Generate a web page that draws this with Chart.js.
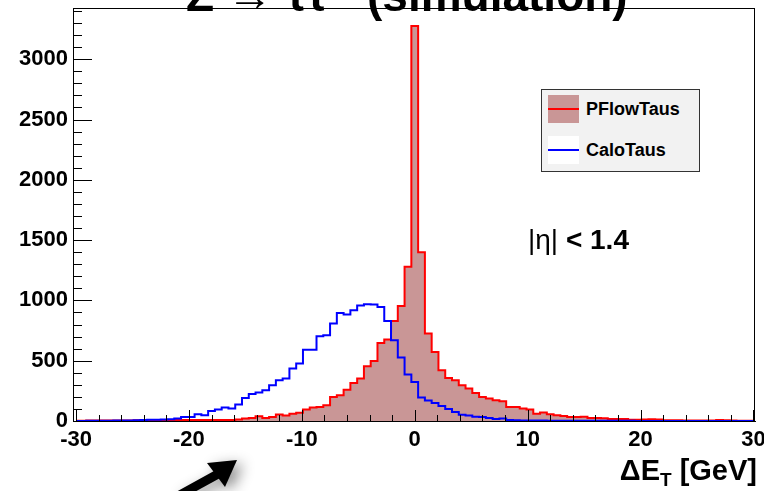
<!DOCTYPE html>
<html>
<head>
<meta charset="utf-8">
<script src="https://cdn.jsdelivr.net/npm/chart.js@4/dist/chart.umd.min.js"></script>
<style>
  body { margin: 0; background: #fff; }
  #wrap { position: relative; width: 764px; height: 491px; overflow: hidden; background: #fff;
          font-family: "Liberation Sans", Arial, Helvetica, sans-serif; color: #000; }
  #histo { position: absolute; left: 0; top: 0; }
  .over { position: absolute; white-space: nowrap; }
  #legend { left: 541px; top: 89px; width: 157px; height: 81px; background: #f2f2f2; border: 1px solid #333; }
  .entry { position: absolute; left: 6px; width: 150px; height: 28px; }
  .sample { position: absolute; left: 0; top: 0; width: 31px; height: 28px; }
  .sample i { position: absolute; left: 0; top: 13px; width: 31px; height: 2px; }
  .entry span { position: absolute; left: 38px; top: 0; line-height: 28px; font-weight: bold; font-size: 18px; }
</style>
</head>
<body>
<div id="wrap">
  <canvas id="histo" width="764" height="491"></canvas>
  <div class="over" style="left:186px; top:-28px; font-size:46px; line-height:46px; font-weight:bold;">Z → ττ</div>
  <div class="over" style="left:367px; top:-28px; font-size:46px; line-height:46px; font-weight:bold;">(simulation)</div>
  <div id="legend" class="over">
    <div class="entry" style="top:5px;">
      <div class="sample" style="background:#c99696;"><i style="background:#ff0000;"></i></div>
      <span>PFlowTaus</span>
    </div>
    <div class="entry" style="top:46px;">
      <div class="sample" style="background:#fff;"><i style="background:#0000ff;"></i></div>
      <span>CaloTaus</span>
    </div>
  </div>
  <div class="over" style="left:528px; top:225px; font-size:28px; line-height:30px;">|η| <b>&lt; 1.4</b></div>
  <div class="over" style="right:7px; top:456px; font-size:29px; line-height:29px; font-weight:bold;">ΔE<span style="font-size:19px; position:relative; top:6px;">T</span> [GeV]</div>
</div>

<script>
// histogram contents, 0.6 GeV bins, first bin centred at -30
const pflowTaus = [
  3, 3, 4, 4, 4, 5, 5, 5, 5, 6, 6, 6, 7, 7, 8,
  8, 8, 8, 9, 8, 8, 9, 8, 9, 12,
  20, 25, 39, 25, 33, 53, 45, 61, 68, 96,
  111, 116, 130, 199, 213, 260, 315, 352, 454, 498,
  647, 675, 829, 954, 1280,
  3275,
  1400, 726, 573, 421, 357, 338, 296, 269, 232, 199,
  186, 172, 163, 116, 116, 103, 95, 61, 70, 56,
  47, 42, 33, 33, 36, 25, 25, 22, 17, 17,
  16, 11, 11, 12, 14, 12, 7, 6, 6, 5,
  4, 4, 4, 5, 8, 7, 4, 3, 3, 2
];
const caloTaus = [
  1, 1, 2, 2, 3, 3, 4, 5, 5, 6, 8, 10, 10, 12, 15,
  20, 33, 33, 56, 47, 83, 95, 111, 103, 136,
  191, 224, 236, 255, 296, 338, 352, 435, 476, 590,
  590, 703, 711, 808, 896, 883, 919, 958, 968, 966,
  946, 830, 670, 526, 385,
  324,
  195, 170, 150, 125, 100, 75, 52, 45, 36, 33,
  25, 16, 20, 8, 6, 5, 5, 4, 4, 3,
  3, 3, 3, 2, 2, 2, 2, 2, 2, 2,
  2, 2, 1, 1, 1, 1, 1, 1, 1, 1,
  1, 1, 1, 1, 1, 1, 1, 1, 0, 0
];
const xTickLabels = [-30, -20, -10, 0, 10, 20, 30];
const yTickLabels = [0, 500, 1000, 1500, 2000, 2500, 3000];

const binWidth = 0.6;
const firstCentre = -30;
const binCentres = pflowTaus.map((_, i) => firstCentre + binWidth * i);

function toPoints(values) {
  return values.map((v, i) => ({ x: binCentres[i], y: v }));
}

const tickFont = { family: '"Liberation Sans", Arial, sans-serif', size: 22, weight: 'bold' };

// ROOT style frame, inward ticks and the annotation arrow
const rootFrame = {
  id: 'rootFrame',
  afterDatasetsDraw(chart) {
    const { ctx, chartArea: a, scales: { x, y } } = chart;
    ctx.save();
    ctx.strokeStyle = '#000';
    ctx.lineWidth = 1;
    ctx.strokeRect(Math.round(a.left) + 0.5, Math.round(a.top) + 0.5,
                   Math.round(a.right - a.left) - 1, Math.round(a.bottom - a.top));
    ctx.beginPath();
    for (let v = -30; v <= 30; v += 2) {
      const px = Math.round(x.getPixelForValue(v)) + 0.5;
      const len = v % 10 === 0 ? 11 : 6;
      ctx.moveTo(px, a.bottom);
      ctx.lineTo(px, a.bottom - len);
    }
    for (let v = 0; v <= 3400; v += 100) {
      const py = Math.round(y.getPixelForValue(v)) + 0.5;
      const len = v % 500 === 0 ? 19 : 9;
      ctx.moveTo(a.left, py);
      ctx.lineTo(a.left + len, py);
    }
    ctx.stroke();
    ctx.restore();
  },
  afterDraw(chart) {
    const ctx = chart.ctx;
    ctx.save();
    ctx.shadowColor = 'rgba(0,0,0,0.45)';
    ctx.shadowBlur = 14;
    ctx.shadowOffsetX = 6;
    ctx.shadowOffsetY = 4;
    ctx.fillStyle = '#000';
    ctx.strokeStyle = '#000';
    ctx.lineWidth = 9;
    ctx.beginPath();
    ctx.moveTo(178, 496);
    ctx.lineTo(218, 474);
    ctx.stroke();
    ctx.beginPath();
    ctx.moveTo(237, 460);
    ctx.lineTo(207, 463);
    ctx.lineTo(225, 487);
    ctx.closePath();
    ctx.fill();
    ctx.restore();
  }
};

const ctx = document.getElementById('histo').getContext('2d');
const chart = new Chart(ctx, {
  type: 'line',
  data: {
    datasets: [
      {
        label: 'CaloTaus',
        data: toPoints(caloTaus),
        stepped: 'middle',
        borderColor: '#0000ff',
        borderWidth: 2,
        pointRadius: 0,
        fill: false,
        order: 0
      },
      {
        label: 'PFlowTaus',
        data: toPoints(pflowTaus),
        stepped: 'middle',
        borderColor: '#ff0000',
        backgroundColor: '#c99696',
        borderWidth: 2,
        pointRadius: 0,
        fill: 'origin',
        order: 1
      }
    ]
  },
  options: {
    responsive: false,
    animation: false,
    devicePixelRatio: 1,
    layout: { padding: { left: 0, right: 9, top: 8, bottom: 0 } },
    plugins: { legend: { display: false }, tooltip: { enabled: false } },
    scales: {
      x: {
        type: 'linear',
        min: -30.27,
        max: 30.14,
        afterBuildTicks: s => { s.ticks = xTickLabels.map(v => ({ value: v })); },
        afterFit: s => { s.height = 70; s.paddingLeft = 0; s.paddingRight = 0; },
        grid: { display: false, drawTicks: false },
        border: { display: true, color: '#000', width: 1 },
        ticks: { font: tickFont, color: '#000', padding: 6, maxRotation: 0, autoSkip: false,
                 callback: v => String(v) }
      },
      y: {
        min: 0,
        max: 3425,
        afterBuildTicks: s => { s.ticks = yTickLabels.map(v => ({ value: v })); },
        afterFit: s => { s.width = 73; s.paddingTop = 0; s.paddingBottom = 0; },
        grid: { display: false, drawTicks: false },
        border: { display: true, color: '#000', width: 1 },
        ticks: { font: tickFont, color: '#000', padding: 5, autoSkip: false,
                 callback: v => String(v) }
      }
    }
  },
  plugins: [rootFrame]
});
</script>
</body>
</html>
